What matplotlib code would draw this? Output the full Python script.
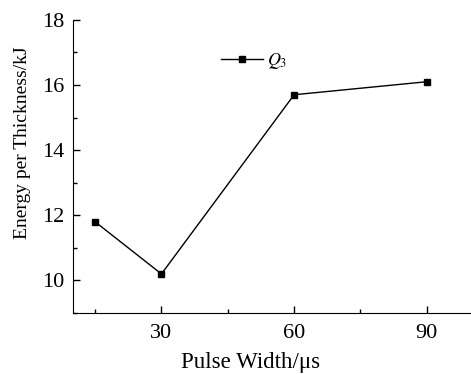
import matplotlib.pyplot as plt
from matplotlib.ticker import MultipleLocator

pulse_width = [15, 30, 60, 90]
energy = [11.8, 10.2, 15.7, 16.1]
series_label = "$Q_3$"

plt.rcParams['font.family'] = ['Liberation Serif', 'DejaVu Serif']
plt.rcParams['mathtext.fontset'] = 'stix'

fig = plt.figure(figsize=(4.71, 3.74), dpi=100)
ax = fig.add_axes([0.155, 0.163, 0.845, 0.784])

ax.plot(pulse_width, energy, color='black', linewidth=1.0, marker='s',
        markersize=4.5, label=series_label)

ax.set_xlim(10, 100)
ax.set_ylim(9, 18)
ax.xaxis.set_major_locator(MultipleLocator(30))
ax.xaxis.set_minor_locator(MultipleLocator(15))
ax.yaxis.set_major_locator(MultipleLocator(2))
ax.yaxis.set_minor_locator(MultipleLocator(1))
ax.set_xticks([30, 60, 90])
ax.tick_params(which='both', direction='in', labelsize=16, width=1)
ax.tick_params(which='major', length=5)
ax.tick_params(which='minor', length=3)
ax.tick_params(axis='x', pad=8)
ax.tick_params(axis='y', pad=6)

ax.spines['top'].set_visible(False)
ax.spines['right'].set_visible(False)

ax.set_xlabel("Pulse Width/μs", fontsize=16.5, va='center')
ax.set_ylabel("Energy per Thickness/kJ", fontsize=14, va='center')
ax.xaxis.set_label_coords(0.445, -0.167)
ax.yaxis.set_label_coords(-0.128, 0.58)

ax.legend(loc='center left', bbox_to_anchor=(0.33, 0.858), frameon=False,
          fontsize=13, handlelength=2.35, handletextpad=0.2)

fig.savefig("out.png", dpi=100)
